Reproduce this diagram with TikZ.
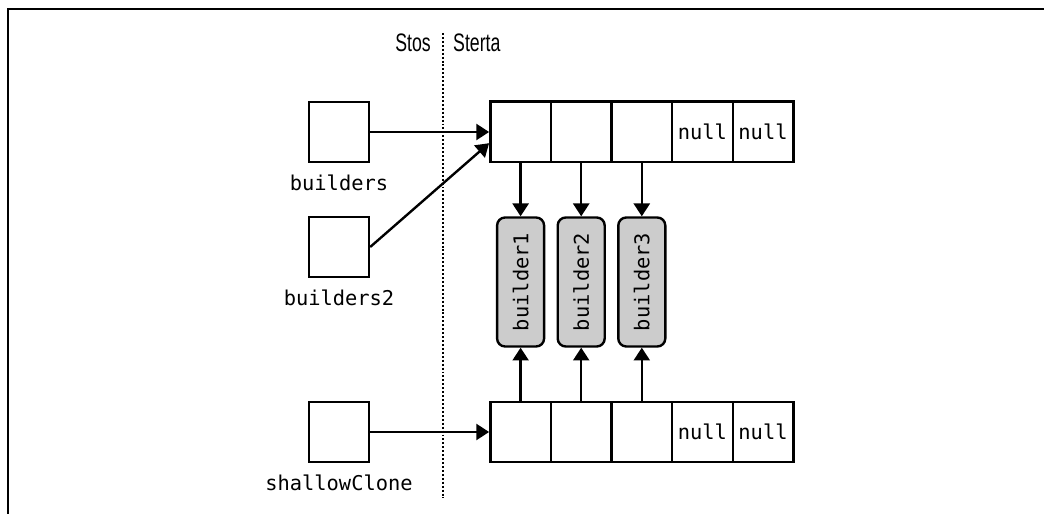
\documentclass[tikz,border=0pt]{standalone}
\usepackage{fontspec}
\setmonofont{DejaVu Sans Mono}
\newfontfamily\condfont[FakeStretch=0.7]{Liberation Sans}
\usetikzlibrary{arrows.meta,positioning}

\begin{document}
\begin{tikzpicture}[
    line width=1.7pt,
    pfeil/.style={-{Triangle[length=0.32cm,width=0.4cm]}},
    zelle/.style={draw, minimum size=1.515cm, inner sep=0pt, font=\ttfamily\fontsize{14.5}{16}\selectfont},
    var/.style={draw, minimum size=1.5cm, inner sep=0pt},
    bezeichner/.style={inner sep=0pt, font=\ttfamily\fontsize{14.5}{16}\selectfont},
    objekt/.style={draw, rounded corners=0.2cm, fill=black!20, minimum width=1.175cm, minimum height=3.225cm, inner sep=0pt, font=\ttfamily\fontsize{14.5}{16}\selectfont},
    titel/.style={inner sep=0pt, font=\condfont\fontsize{18}{20}\selectfont}
  ]
    \useasboundingbox (0,0) rectangle (26.1,12.85);

    % Rahmen (nur oben und links)
    \draw[line width=2pt] (0.2,0) -- (0.2,12.625) -- (26.1,12.625);

    % Trennlinie zwischen Stos und Sterta
    \coordinate (T1) at (11.075,12.025);
    \coordinate (T2) at (11.075,0.4);
    \draw[line width=1.7pt, dash pattern=on 1.4pt off 1.4pt] (T1) -- (T2);
    \node[titel, anchor=east] (stos) at (10.8,11.775) {Stos};
    \node[titel, anchor=west] (sterta) at (11.3,11.775) {Sterta};

    % Variablen auf dem Stos
    \node[var] (b1) at (8.475,9.55) {};
    \node[var] (b2) at (8.475,6.675) {};
    \node[var] (sc) at (8.475,2.05) {};
    \node[bezeichner, below=0.26cm of b1] (nb1) {builders};
    \node[bezeichner, below=0.26cm of b2] (nb2) {builders2};
    \node[bezeichner, below=0.27cm of sc] (nsc) {shallowClone};

    % Arrays auf der Sterta
    \foreach \i/\t in {1/,2/,3/,4/null,5/null} {
      \node[zelle] (o\i) at ({11.5+1.515*\i},9.55) {\t};
      \node[zelle] (u\i) at ({11.5+1.515*\i},2.05) {\t};
    }

    % Objekte builder1 bis builder3
    \foreach \i in {1,2,3} {
      \node[objekt] (bld\i) at ({11.5+1.515*\i},5.8) {\rotatebox{90}{builder\i}};
      \draw[pfeil] (o\i.south) -- (bld\i.north);
      \draw[pfeil] (u\i.north) -- (bld\i.south);
    }

    % Referenzen vom Stos auf die Arrays
    \draw[pfeil] (b1.east) -- (o1.west);
    \draw[pfeil] (b2.east) -- ([yshift=-0.28cm]o1.west);
    \draw[pfeil] (sc.east) -- (u1.west);
\end{tikzpicture}
\end{document}
